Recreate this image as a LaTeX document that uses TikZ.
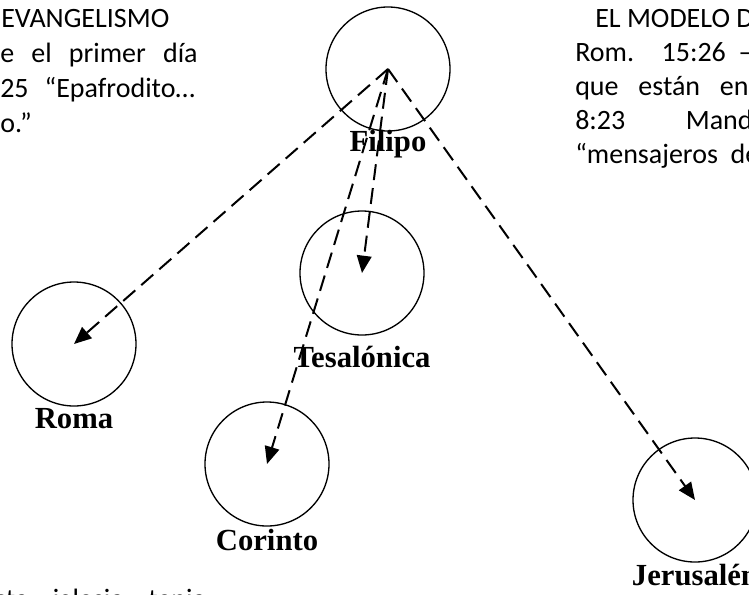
\documentclass[tikz,border=0pt]{standalone}
\usepackage{fontspec}
\setmainfont{Carlito}
\newfontfamily\fuenterotulo{Liberation Serif}
\usetikzlibrary{positioning,arrows.meta}

\tikzset{
  ciudad/.style={draw, circle, line width=1pt, minimum size=93pt, inner sep=0pt},
  rotulo/.style={font=\fuenterotulo\bfseries\fontsize{23}{27}\selectfont, inner sep=1pt},
  texto/.style={font=\fontsize{21}{25}\selectfont, inner sep=0pt, anchor=base west},
  envio/.style={dash pattern=on 12pt off 6pt, line width=1.5pt, -{Triangle[length=13pt,width=11pt]}},
}

\begin{document}
\begin{tikzpicture}[x=0.75pt, y=-0.75pt]
\useasboundingbox (0,0) rectangle (749,594);
% ciudades
\node[ciudad] (filipo) at (388,69) {};
\node[ciudad] (tesalonica) at (362,273) {};
\node[ciudad] (roma) at (74,344) {};
\node[ciudad] (corinto) at (267,464) {};
\node[ciudad] (jerusalen) at (695,500) {};
\node[rotulo, below=-2pt of filipo] (filipolbl) {Filipo};
\node[rotulo, below=7pt of tesalonica] (tesalonicalbl) {Tesalónica};
\node[rotulo, below=0pt of roma] (romalbl) {Roma};
\node[rotulo, below=1pt of corinto] (corintolbl) {Corinto};
\node[rotulo, below=0pt of jerusalen] (jerusalenlbl) {Jerusalén};
% envios desde Filipo
\draw[envio] (filipo.center) -- (roma.center);
\draw[envio] (filipo.center) -- (tesalonica.center);
\draw[envio] (filipo.center) -- (corinto.center);
\draw[envio] (filipo.center) -- (jerusalen.center);
% texto de fondo
\node[texto] (izq1) at (1,27) {EVANGELISMO};
\node[texto] (izq2) at (0,62) {\makebox[148pt][s]{e el primer día}};
\node[texto] (izq3) at (0,97) {\makebox[146pt][s]{25 “Epafrodito…}};
\node[texto] (izq4) at (0,132) {o.”};
\node[texto] (der1) at (595,27) {EL MODELO D};
\node[texto] (der2) at (575,61) {\makebox[133pt][s]{Rom. 15:26 –}};
\node[texto] (der3) at (575,95) {\makebox[130pt][s]{que están en}};
\node[texto] (der4) at (575,129) {\makebox[133pt][s]{8:23 Mand}};
\node[texto] (der5) at (575,163) {\makebox[138pt][s]{“mensajeros de}};
\node[texto] (abajo) at (-5,608) {\makebox[158pt][s]{sta iglesia tenia}};
\end{tikzpicture}
\end{document}
